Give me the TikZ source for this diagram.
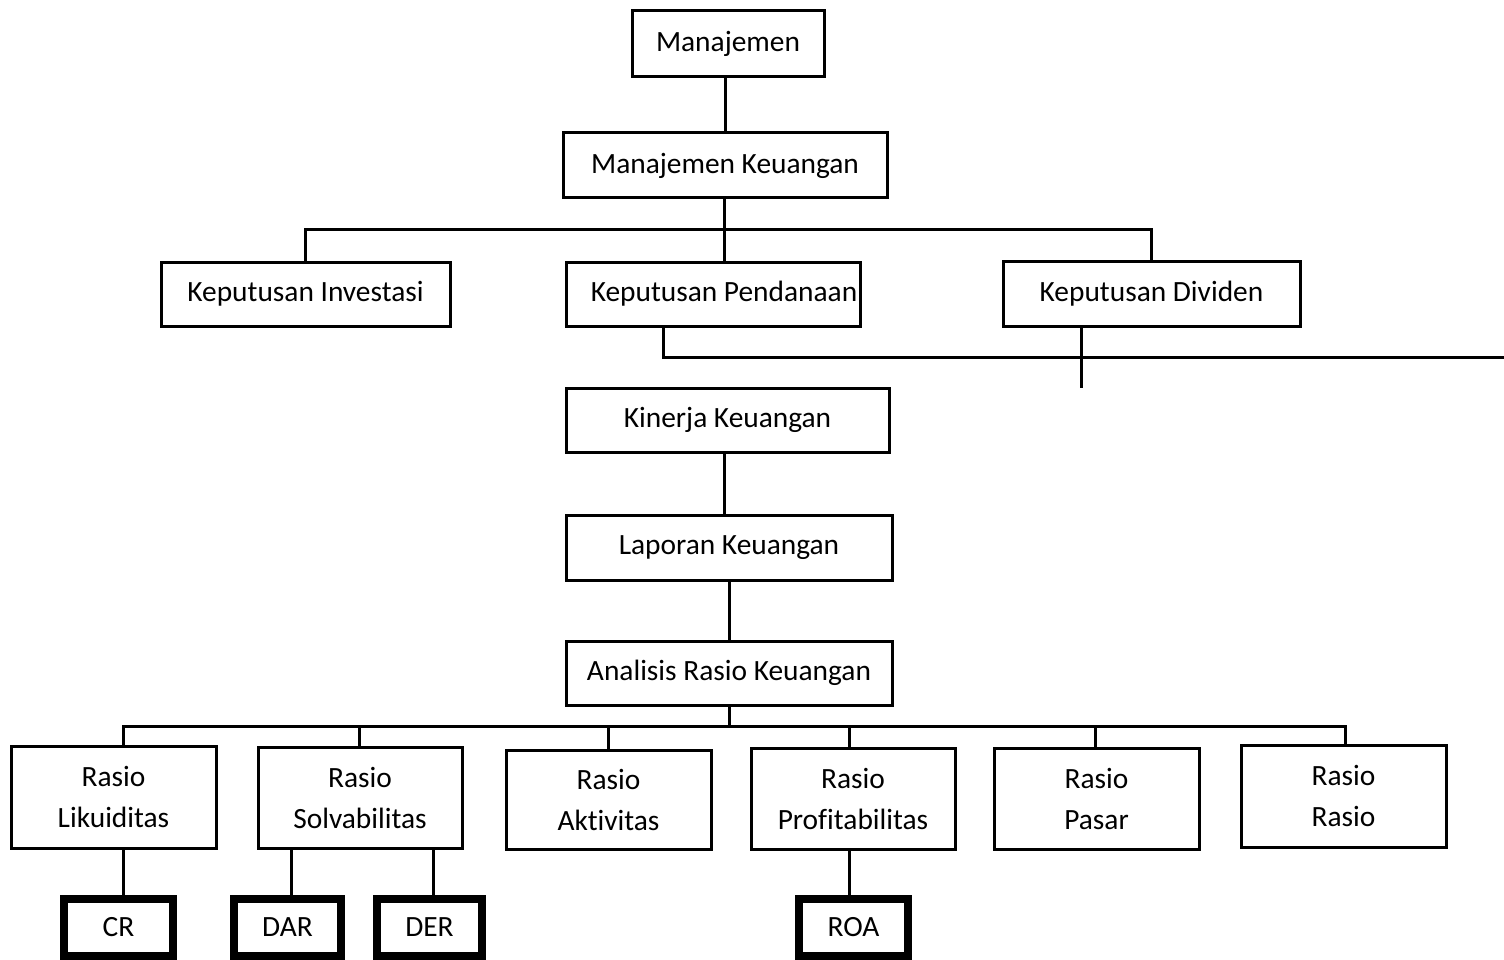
\documentclass[tikz,border=0pt]{standalone}
\usepackage{fontspec}
\setmainfont[Ligatures={NoCommon}]{Carlito}
\usetikzlibrary{calc}
\begin{document}
\begin{tikzpicture}[x=1pt,y=-1pt,
  box/.style={draw=black,line width=3pt,fill=white,align=center,inner sep=0pt,
    font=\fontsize{29.4}{41}\selectfont},
  thickbox/.style={box,line width=8pt},
  lbl/.style={inner sep=0pt,font=\fontsize{29.4}{41}\selectfont},
  conn/.style={draw=black,line width=3pt}]
\useasboundingbox (0,0) rectangle (1504,960);
% top chain
\node[box,minimum width=192,minimum height=66] (man) at (728,44) {Manajemen};
\node[box,minimum width=324,minimum height=65] (mk) at (725,165.5) {Manajemen Keuangan};
\node[box,minimum width=289,minimum height=64] (ki) at (305.5,294) {Keputusan Investasi};
\node[box,minimum width=294,minimum height=64] (kp) at (713,294) {};
\node[lbl] (kptxt) at (724,294) {Keputusan Pendanaan};
\node[box,minimum width=297,minimum height=65] (kd) at (1151.5,293.5) {Keputusan Dividen};
\node[box,minimum width=323,minimum height=64] (kk) at (727.5,420) {Kinerja Keuangan};
\node[box,minimum width=326,minimum height=65] (lk) at (729,547.5) {Laporan Keuangan};
\node[box,minimum width=326,minimum height=64] (ar) at (729,673) {Analisis Rasio Keuangan};
% ratio row
\node[box,minimum width=205,minimum height=102] (rl) at (113.5,797) {Rasio\\Likuiditas};
\node[box,minimum width=204,minimum height=101] (rs) at (360,797.5) {Rasio\\Solvabilitas};
\node[box,minimum width=205,minimum height=99] (ra) at (608.5,799.5) {Rasio\\Aktivitas};
\node[box,minimum width=204,minimum height=101] (rp) at (853,798.5) {Rasio\\Profitabilitas};
\node[box,minimum width=205,minimum height=101] (rpa) at (1096.5,798.5) {Rasio\\Pasar};
\node[box,minimum width=205,minimum height=102] (rr) at (1343.5,796) {Rasio\\Rasio};
% indicators
\node[thickbox,minimum width=109,minimum height=57] (cr) at (118.5,927.5) {CR};
\node[thickbox,minimum width=107,minimum height=57] (dar) at (287.5,927.5) {DAR};
\node[thickbox,minimum width=105,minimum height=57] (der) at (429.5,927.5) {DER};
\node[thickbox,minimum width=109,minimum height=57] (roa) at (853.5,927.5) {ROA};
% helper coordinates
\coordinate (b1) at (0,229);
\coordinate (b2) at (0,726);
\coordinate (r1) at (1504,357);
\coordinate (d1) at (1081,388);
% connectors
\draw[conn] (mk.north) -- (mk.north |- man.south);
\draw[conn] ([xshift=-1]mk.south) -- ([xshift=-1]mk.south |- kp.north);
\draw[conn] (ki.north) -- (ki.north |- b1) -- (kd.north |- b1) -- (kd.north);
\draw[conn] ([xshift=-50]kp.south) |- (r1);
\draw[conn] (kd.south -| d1) -- (d1);
\draw[conn] ([xshift=-3]kk.south) -- ([xshift=-3]kk.south |- lk.north);
\draw[conn] (lk.south) -- (lk.south |- ar.north);
\draw[conn] (ar.south) -- (ar.south |- b2);
\draw[conn] ([xshift=9.5]rl.north) -- ([xshift=9.5]rl.north |- b2) -- ([xshift=1.5]rr.north |- b2) -- ([xshift=1.5]rr.north);
\draw[conn] ([xshift=-1]rs.north) -- ([xshift=-1]rs.north |- b2);
\draw[conn] (ra.north) -- (ra.north |- b2);
\draw[conn] ([xshift=-4]rp.north) -- ([xshift=-4]rp.north |- b2);
\draw[conn] ([xshift=-1.5]rpa.north) -- ([xshift=-1.5]rpa.north |- b2);
\draw[conn] ([xshift=9.5]rl.south) -- ([xshift=9.5]rl.south |- cr.north);
\draw[conn] ([xshift=3.5]dar.north) -- ([xshift=3.5]dar.north |- rs.south);
\draw[conn] ([xshift=3.5]der.north) -- ([xshift=3.5]der.north |- rs.south);
\draw[conn] ([xshift=-4]rp.south) -- ([xshift=-4]rp.south |- roa.north);
\end{tikzpicture}
\end{document}
